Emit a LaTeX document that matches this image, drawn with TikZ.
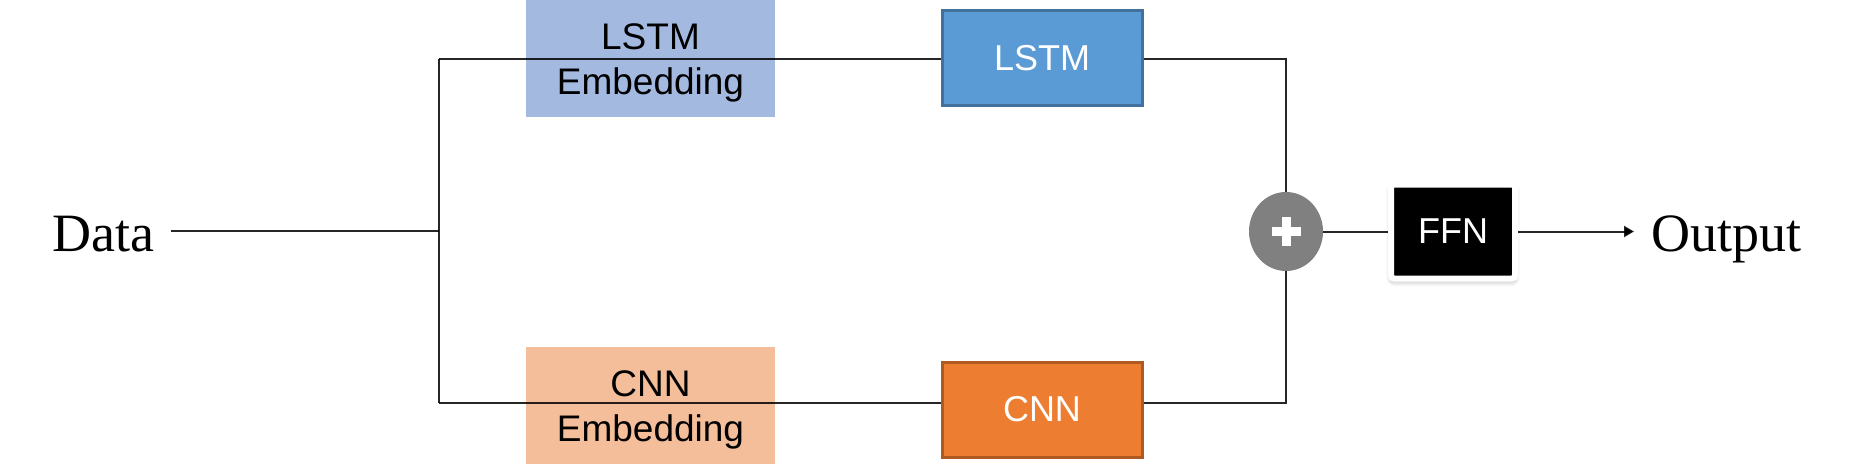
\documentclass[tikz,border=0pt]{standalone}
\usepackage{fontspec}
\setmainfont{Liberation Serif}
\newfontfamily\arialfont{Liberation Sans}
\usetikzlibrary{arrows.meta,shapes.geometric,shadows.blur}
\definecolor{embblue}{HTML}{A3B9E0}
\definecolor{lstmblue}{HTML}{5B9BD5}
\definecolor{lstmedge}{HTML}{41719C}
\definecolor{embor}{HTML}{F5BE9A}
\definecolor{cnnor}{HTML}{ED7D31}
\definecolor{cnnedge}{HTML}{AE5A21}
\definecolor{sumgray}{HTML}{808080}
\begin{document}
\begin{tikzpicture}[x=1pt,y=-1pt,
  embbox/.style={minimum width=249pt,minimum height=117pt,inner sep=0pt},
  embtext/.style={align=center,inner sep=0pt,yshift=-4.5pt,
    font=\arialfont\fontsize{37}{44.5}\selectfont},
  netbox/.style={minimum width=200pt,minimum height=95pt,line width=3pt,inner sep=0pt,
    text=white,font=\arialfont\fontsize{36}{43}\selectfont},
  conn/.style={line width=2pt,draw opacity=0.85},
  bigtext/.style={font=\fontsize{54}{60}\selectfont,inner xsep=16pt,inner ysep=0pt}]
\useasboundingbox (0,0) rectangle (1853,474);

% nodes
\node[bigtext,anchor=base east] (data) at (171,251) {Data};
\node[embbox,fill=embblue,label={[embtext]center:LSTM\\Embedding}] (lemb) at (650.5,58.5) {};
\node[embbox,fill=embor,label={[embtext]center:CNN\\Embedding}] (cemb) at (650.5,405.5) {};
\node[netbox,fill=lstmblue,draw=lstmedge] (lstm) at (1042,58) {LSTM};
\node[netbox,fill=cnnor,draw=cnnedge] (cnn) at (1042,409.5) {CNN};
\node[ellipse,fill=sumgray,minimum width=74pt,minimum height=79pt,inner sep=0pt,
  path picture={
    \draw[white,line width=9pt] ([xshift=-14.5pt]path picture bounding box.center) -- ([xshift=14.5pt]path picture bounding box.center);
    \draw[white,line width=9pt] ([yshift=-14.5pt]path picture bounding box.center) -- ([yshift=14.5pt]path picture bounding box.center);
  }] (sum) at (1286,231.5) {};
\node[fill=black,draw=white,line width=6pt,rounded corners=3pt,minimum width=124pt,minimum height=94pt,
  inner sep=0pt,text=white,font=\arialfont\fontsize{36}{43}\selectfont,
  blur shadow={shadow xshift=0pt,shadow yshift=-3pt,shadow blur radius=5pt,shadow opacity=35}] (ffn) at (1453,231.5) {FFN};
\node[bigtext,anchor=base west,inner xsep=17pt] (out) at (1634,251) {Output};

% junctions
\coordinate (j) at (439,231);
\coordinate (jt) at (439,59);
\coordinate (jb) at (439,403);

% connectors
\draw[conn] (data.east |- j) -- (j);
\draw[conn] (jt) -- (jb);
\draw[conn] (jt) -- (jt -| lstm.west);
\draw[conn] (jb) -- (jb -| cnn.west);
\draw[conn] (jt -| lstm.east) -- (jt -| sum.north) -- (sum.north);
\draw[conn] (jb -| cnn.east) -- (jb -| sum.south) -- (sum.south);
\draw[conn] (sum.east) -- (ffn.west);
\draw[conn,-{Triangle[length=10pt,width=11pt]}] (ffn.east) -- (ffn.east -| out.west);
\end{tikzpicture}
\end{document}
